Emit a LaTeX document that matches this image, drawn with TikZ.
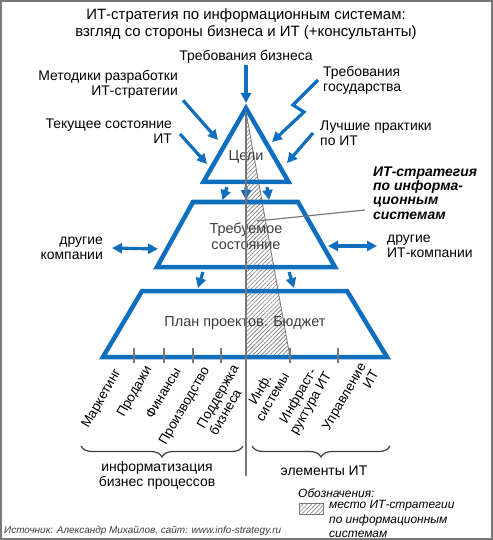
\documentclass[tikz,border=0pt]{standalone}
\usepackage{fontspec}
\setmainfont{Liberation Sans}
\definecolor{blueIT}{RGB}{16,110,190}
\definecolor{grayLine}{RGB}{120,120,120}
\definecolor{grayText}{RGB}{60,60,60}
\usetikzlibrary{arrows.meta, shapes.geometric, patterns.meta, decorations.pathreplacing, calc}

\begin{document}
\begin{tikzpicture}[x=1bp, y=-1bp,
  lbl/.style={font=\fontsize{14}{15}\selectfont, inner sep=1bp},
  lvl/.style={draw=blueIT, line width=4.5bp, line join=miter},
  lvltext/.style={text=grayText, inner sep=0pt, font=\fontsize{14.5}{16}\selectfont, align=center},
  rot/.style={rotate=60, inner sep=0pt, font=\fontsize{13.5}{14.5}\selectfont},
  arr/.style={-{Triangle[length=10bp, width=10bp]}, line width=3.2bp, draw=blueIT},
  arr2/.style={{Triangle[length=10bp, width=10bp]}-{Triangle[length=10bp, width=10bp]},
               line width=3.2bp, draw=blueIT},
  hatch/.style={pattern={Lines[angle=45, distance=3bp, line width=0.6bp]},
                pattern color=grayLine, draw=grayLine, line width=0.8bp},
  tick/.style={draw=grayLine, line width=1.2bp},
  brc/.style={decorate, decoration={brace, amplitude=11bp}, draw=grayText, line width=1.2bp},
  note/.style={font=\itshape\fontsize{12}{14.5}\selectfont, inner sep=0pt, align=left}
]
\useasboundingbox (0,0) rectangle (493,540);
\draw[grayLine, line width=2bp] (1,1) rectangle (492,539);

% title
\node[font=\fontsize{15}{17}\selectfont, align=center] (title) at (246,24)
  {ИТ-стратегия по информационным системам:\\взгляд со стороны бизнеса и ИТ (+консультанты)};

% hatched place of the strategy
\draw[hatch] (246,112) -- (290,357) -- (246,357) -- cycle;

% levels
\node[lvl, lvltext, regular polygon, regular polygon sides=3, minimum size=94.7bp] (goal) at (246,157.3) {Цели};

\coordinate (st1) at (193,202);
\coordinate (st2) at (298,202);
\coordinate (st3) at (335,267);
\coordinate (st4) at (157,267);
\draw[lvl] (st1) -- (st2) -- (st3) -- (st4) -- cycle;
\node[lvltext] (state) at (246,236) {Требуемое\\состояние};

\coordinate (pl1) at (142,291);
\coordinate (pl2) at (347,291);
\coordinate (pl3) at (387,357);
\coordinate (pl4) at (103,357);
\draw[lvl] (pl1) -- (pl2) -- (pl3) -- (pl4) -- cycle;
\node[lvltext] (plan) at (245,323) {План проектов. Бюджет};

% inputs
\node[lbl] (bizreq) at (246,57) {Требования бизнеса};
\node[lbl, anchor=east, align=right] (method) at (179,84) {Методики разработки\\ИТ-стратегии};
\node[lbl, anchor=west, align=left] (gov) at (322,80) {Требования\\государства};
\node[lbl, anchor=east, align=right] (curit) at (173,131) {Текущее состояние\\ИТ};
\node[lbl, anchor=west, align=left] (best) at (319,133) {Лучшие практики\\по ИТ};
\node[lbl, anchor=east, align=right] (othc) at (104,248) {другие\\компании};
\node[lbl, anchor=west, align=left] (othit) at (386,246) {другие\\ИТ-компании};

\coordinate (tipA) at (246,103);
\coordinate (tipB) at (218,140);
\coordinate (tipC) at (272,142);
\coordinate (tipD) at (207,164);
\coordinate (tipE) at (287,163);
\coordinate (tipL) at (158,249);
\coordinate (tipR) at (328,246);

\draw[arr] (bizreq.south) -- (tipA);
\draw[arr] ([shift={(4bp,-1bp)}]method.south east) -- (tipB);
\draw[arr] ([xshift=-4bp]gov.west) -- ++(-25,25) -- ++(11,7) -- (tipC);
\draw[arr] ([shift={(7bp,-3bp)}]curit.east) -- (tipD);
\draw[arr] ([shift={(-6bp,0bp)}]best.west) -- (tipE);
\draw[arr2] ([xshift=8bp]othc.east) -- (tipL);
\draw[arr2] (tipR) -- ([xshift=-9bp]othit.west);

% between levels
\draw[arr] ([xshift=-19bp]goal.corner 2 -| goal.center) ++(0,3) -- ($(st1)!0.28!(st2)+(0,-2)$);
\draw[arr] (goal.corner 2 -| goal.center) ++(0,3) -- ($(st1)!0.505!(st2)+(0,-2)$);
\draw[arr] ([xshift=21bp]goal.corner 2 -| goal.center) ++(0,3) -- ($(st1)!0.725!(st2)+(0,-2)$);
\draw[arr] ($(st4)!0.258!(st3)+(0,5)$) -- ($(pl1)!0.273!(pl2)+(0,-3)$);
\draw[arr] ($(st4)!0.742!(st3)+(0,5)$) -- ($(pl1)!0.741!(pl2)+(0,-3)$);

% strategy label
\node[lbl, anchor=west, align=left, font=\bfseries\itshape\fontsize{14}{14.5}\selectfont]
  (strat) at (372,193) {ИТ-стратегия\\по информа-\\ционным\\системам};
\coordinate (ldr) at (257,221);
\draw[grayLine, line width=1.2bp] (ldr) -- ([shift={(-7bp,-17bp)}]strat.west);

% dividing line and ticks
\draw[grayLine, line width=1.5bp] (246,112) -- (246,476);
\foreach \x in {134,164,193,221,290,338}
  \draw[tick] (\x,348) -- (\x,363);

% areas
\node[rot] (mkt) at (102,399) {Маркетинг};
\node[rot] (sales) at (135,392) {Продажи};
\node[rot] (fin) at (163,393) {Финансы};
\node[rot] (prod) at (185,406) {Производство};
\node[rot, align=left] (supp) at (224,400) {Поддержка\\бизнеса};
\node[rot, align=center] (infs) at (266,393) {Инф.\\системы};
\node[rot, align=center] (infr) at (305,400) {Инфраст-\\руктура ИТ};
\node[rot, align=right] (mgmt) at (350,400) {Управление\\ИТ};

% braces
\draw[brc] (243,446) -- (81,446);
\draw[brc] (390,446) -- (252,446);
\node[lbl, align=center] (bproc) at (157,475) {информатизация\\бизнес процессов};
\node[lbl] (itel) at (324,471) {элементы ИТ};

% legend
\node[note, anchor=west] (legtitle) at (298,493) {Обозначения:};
\node[hatch, minimum width=24bp, minimum height=11bp, inner sep=0pt] (legbox) at (311,508.5) {};
\node[note, anchor=west] (legtext) at (329,519) {место ИТ-стратегии\\по информационным\\системам};

% source
\node[anchor=west, inner sep=0pt, text=grayText, font=\itshape\fontsize{10}{12}\selectfont]
  (src) at (4,531) {Источник: Александр Михайлов, сайт: www.info-strategy.ru};
\end{tikzpicture}
\end{document}
